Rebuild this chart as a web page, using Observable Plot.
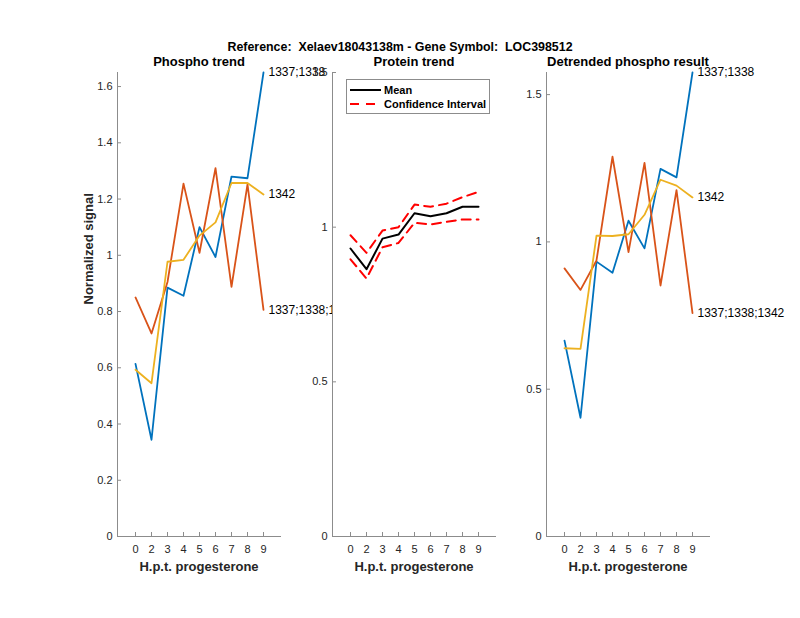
<!DOCTYPE html>
<html><head><meta charset="utf-8">
<script src="https://cdn.jsdelivr.net/npm/d3@7"></script>
<script src="https://cdn.jsdelivr.net/npm/@observablehq/plot@0.6"></script>
<style>
body{margin:0;background:#fff;}
#fig{position:relative;width:800px;height:618px;background:#fff;font-family:"Liberation Sans",Arial,sans-serif;overflow:hidden;}
#fig svg.plotpanel{position:absolute;top:0;}
#title{position:absolute;top:40px;left:0;width:800px;text-align:center;font-weight:bold;font-size:12.4px;white-space:pre;color:#000;line-height:14px;}
#legend{position:absolute;left:346px;top:79px;width:142px;height:33px;border:1px solid #8c8c8c;background:#fff;font-weight:bold;font-size:11px;color:#000;}
#legend .row{position:absolute;left:0;height:14px;line-height:14px;}
#legend svg{position:absolute;left:3px;top:0;}
#legend span{position:absolute;left:37px;white-space:nowrap;}
</style></head><body>
<div id="fig"><div id="title">Reference:  Xelaev18043138m - Gene Symbol:  LOC398512</div></div>
<script>
// ---- data ----
const hours = ["0","2","3","4","5","6","7","8","9"];
const siteNames = ["1337;1338", "1337;1338;1342", "1342"];
const phospho1337_1338      = [0.614,0.344,0.885,0.856,1.100,0.994,1.280,1.274,1.650];
const phospho1337_1338_1342 = [0.850,0.722,0.905,1.255,1.009,1.310,0.888,1.252,0.806];
const phospho1342           = [0.593,0.545,0.977,0.984,1.070,1.117,1.257,1.257,1.216];
const proteinMean  = [0.931,0.864,0.963,0.976,1.045,1.035,1.045,1.066,1.066];
const proteinUpper = [0.974,0.917,0.989,1.000,1.073,1.066,1.076,1.097,1.114];
const proteinLower = [0.896,0.834,0.935,0.949,1.014,1.009,1.017,1.025,1.025];
const detr1337_1338      = [0.665,0.403,0.933,0.895,1.072,0.978,1.248,1.219,1.575];
const detr1337_1338_1342 = [0.910,0.837,0.937,1.289,0.965,1.268,0.852,1.176,0.758];
const detr1342           = [0.639,0.637,1.021,1.020,1.026,1.092,1.211,1.191,1.151];
const ticksPhospho = [0, 0.2, 0.4, 0.6, 0.8, 1, 1.2, 1.4, 1.6];
const ticksProtein = [0, 0.5, 1, 1.5];
const ticksDetr = [0, 0.5, 1, 1.5];
const domainPhospho = [0, 1.65];
const domainProtein = [0, 1.5];
const domainDetr = [0, 1.575];

// ---- styling ----
const colors = ["#0072BD", "#D95319", "#EDB120"];
const axisColor = "#8c8c8c";
const textColor = "#262626";
const FT = 72, FB = 536, H = 618;

const table = arr => hours.map((h, i) => ({h, v: arr[i]}));

function siteMarks(arrs) {
  const marks = [];
  arrs.forEach((arr, k) => {
    marks.push(Plot.line(table(arr), {x: "h", y: "v", stroke: colors[k], strokeWidth: 1.8}));
  });
  const ends = arrs.map((arr, k) => ({h: hours[hours.length-1], v: arr[arr.length-1], name: siteNames[k]}));
  marks.push(Plot.text(ends, {x: "h", y: "v", text: "name", textAnchor: "start", dx: 5, fontSize: 12, fill: "#000"}));
  return marks;
}

function makePanel(o) {
  const frameW = o.width - o.marginLeft - o.marginRight;
  const frameH = FB - FT;
  const marks = [
    Plot.frame({anchor: "left", stroke: axisColor}),
    Plot.frame({anchor: "bottom", stroke: axisColor}),
    Plot.tickX(hours, {x: d => d, insetTop: frameH - 4, stroke: axisColor}),
    Plot.tickY(o.ticks, {y: d => d, insetRight: frameW - 4, stroke: axisColor}),
    Plot.axisX({tickSize: 0, tickPadding: 9, label: null, fill: textColor}),
    Plot.axisY({ticks: o.ticks, tickFormat: d => String(d), tickSize: 0, tickPadding: 5, label: null, fill: textColor}),
    ...o.marks,
    Plot.text([o.title], {frameAnchor: "top", lineAnchor: "middle", dy: -11, fontWeight: "bold", fontSize: 13, fill: "#000"}),
    Plot.text(["H.p.t. progesterone"], {frameAnchor: "bottom", lineAnchor: "middle", dy: 30, fontWeight: "bold", fontSize: 13, fill: textColor})
  ];
  if (o.ylabel) marks.push(Plot.text([o.ylabel], {frameAnchor: "left", dx: -29, rotate: -90, fontWeight: "bold", fontSize: 13, fill: textColor}));
  const svg = Plot.plot({
    width: o.width, height: H,
    marginLeft: o.marginLeft, marginRight: o.marginRight, marginTop: FT, marginBottom: H - FB,
    x: {type: "point", domain: hours, padding: 1},
    y: {domain: o.domain},
    style: {background: "transparent", overflow: "hidden", fontSize: "11px", fontFamily: '"Liberation Sans", Arial, sans-serif', color: textColor},
    marks
  });
  svg.classList.add("plotpanel");
  svg.style.left = o.left + "px";
  svg.style.position = "absolute";
  svg.style.top = "0px";
  return svg;
}

const fig = document.getElementById("fig");

fig.appendChild(makePanel({
  left: 0, width: 332, marginLeft: 117, marginRight: 52,
  domain: domainPhospho, ticks: ticksPhospho, title: "Phospho trend", ylabel: "Normalized signal",
  marks: siteMarks([phospho1337_1338, phospho1337_1338_1342, phospho1342])
}));

fig.appendChild(makePanel({
  left: 290, width: 256, marginLeft: 42, marginRight: 51,
  domain: domainProtein, ticks: ticksProtein, title: "Protein trend",
  marks: [
    Plot.line(table(proteinUpper), {x: "h", y: "v", stroke: "#ff0000", strokeWidth: 2, strokeDasharray: "9,6"}),
    Plot.line(table(proteinLower), {x: "h", y: "v", stroke: "#ff0000", strokeWidth: 2, strokeDasharray: "9,6"}),
    Plot.line(table(proteinMean), {x: "h", y: "v", stroke: "#000", strokeWidth: 2})
  ]
}));

fig.appendChild(makePanel({
  left: 500, width: 300, marginLeft: 46, marginRight: 91,
  domain: domainDetr, ticks: ticksDetr, title: "Detrended phospho result",
  marks: siteMarks([detr1337_1338, detr1337_1338_1342, detr1342])
}));

// legend
const legend = document.createElement("div");
legend.id = "legend";
legend.innerHTML = `
<div class="row" style="top:3px;width:142px"><svg width="32" height="14"><line x1="0" x2="31" y1="7" y2="7" stroke="#000" stroke-width="2"/></svg><span>Mean</span></div>
<div class="row" style="top:17px;width:142px"><svg width="32" height="14"><line x1="0" x2="31" y1="7" y2="7" stroke="#ff0000" stroke-width="2" stroke-dasharray="9,7"/></svg><span>Confidence Interval</span></div>`;
fig.appendChild(legend);
</script>
</body></html>
